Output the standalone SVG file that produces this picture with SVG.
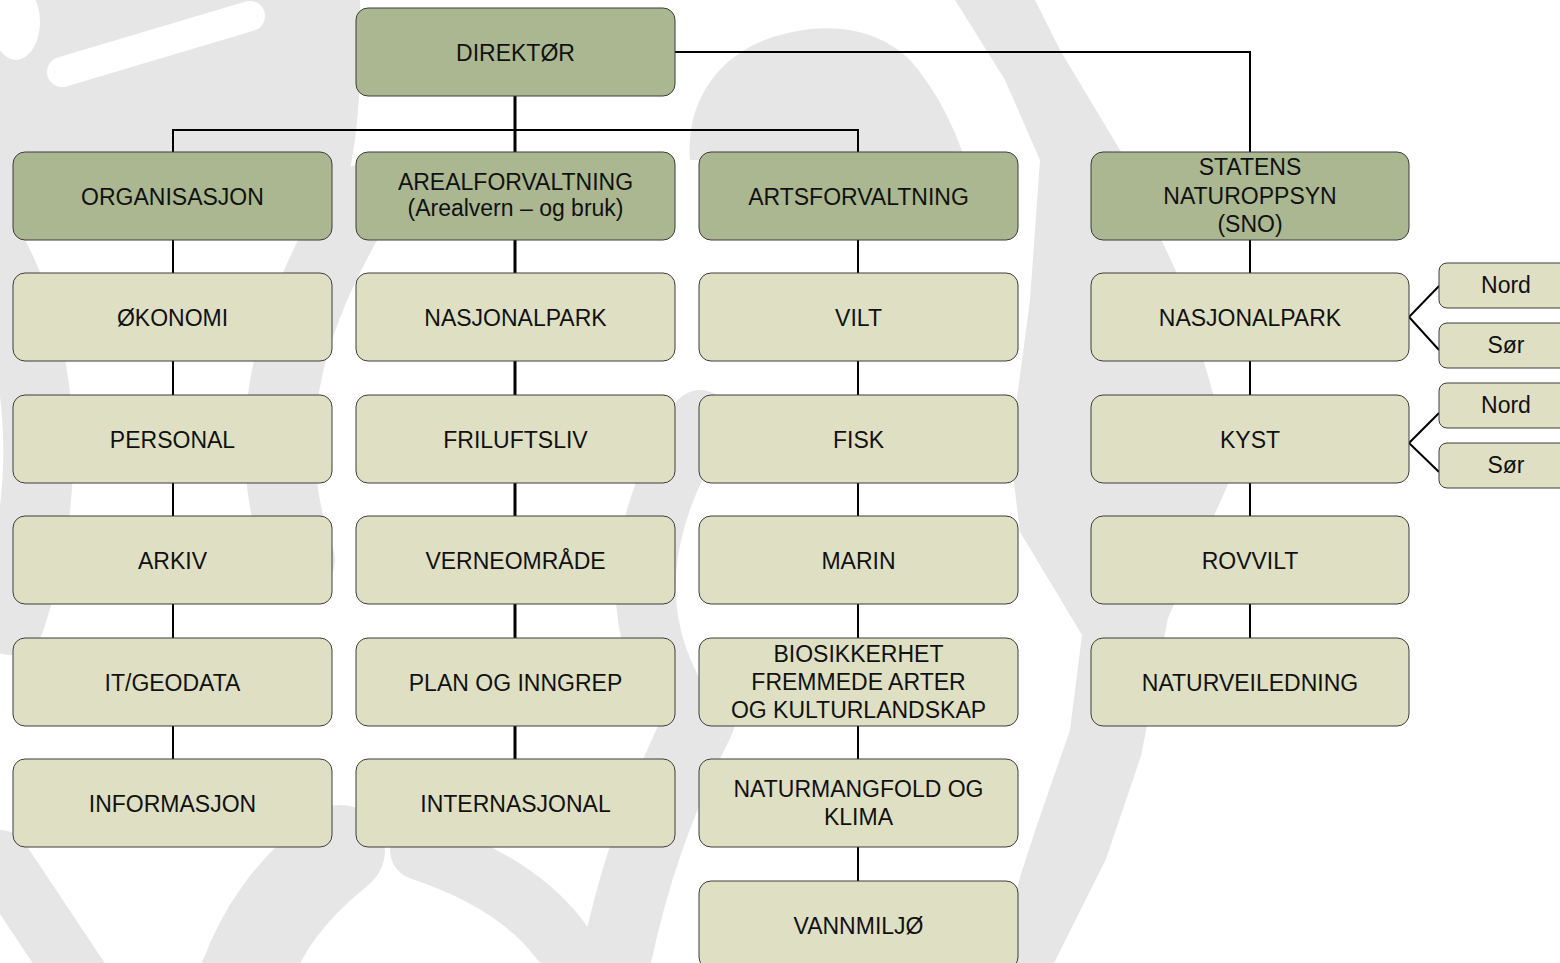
<svg xmlns="http://www.w3.org/2000/svg" width="1560" height="963" viewBox="0 0 1560 963">
<style>
.bg{fill:#ffffff}
.wm{fill:#e6e6e6}
.wms{fill:none;stroke:#e6e6e6;stroke-linecap:round}
.wmw{fill:#ffffff}
.dk{fill:#abb790;stroke:#3c3c3c;stroke-width:1}
.lt{fill:#dfe0c3;stroke:#3c3c3c;stroke-width:1}
.t{font-family:"Liberation Sans",Arial,sans-serif;font-size:23px;fill:#111111;text-anchor:middle}
.c{fill:none;stroke:#000000;stroke-width:2}
.c3{fill:none;stroke:#000000;stroke-width:3}
</style>
<rect class="bg" x="0" y="0" width="1560" height="963"/>
<g id="watermark">
  <path class="wm" d="M0,0 H360 C362,60 360,120 350,170 C330,230 300,200 250,175 C180,150 80,170 0,260 Z"/>
  <ellipse class="wmw" cx="16" cy="22" rx="24" ry="38"/>
  <path d="M62,72 L250,16" fill="none" stroke="#ffffff" stroke-linecap="round" stroke-width="30"/>
  <path class="wm" d="M955,0 L1035,0 L1060,50 L1120,150 L1180,280 L1215,400 L1230,480 L1168,618 L1141,756 L1106,859 L1054,963 L1000,963 L1020,877 L1037,825 L1070,730 L1082,635 L1020,532 L1010,450 L1030,300 L1040,160 L1005,80 Z"/>
  <path class="wm" d="M690,160 C685,100 720,55 770,38 C830,18 880,30 910,60 C940,95 955,130 965,160 Z"/>
  <path class="wms" d="M-20,230 C40,330 60,470 10,620" stroke-width="70"/>
  <path class="wms" d="M360,200 C300,300 250,420 300,560" stroke-width="70"/>
  <path class="wms" d="M700,420 C640,520 620,620 690,720" stroke-width="60"/>
  <path class="wms" d="M0,860 L80,980" stroke-width="60"/>
  <path class="wms" d="M340,850 C290,890 260,930 240,990" stroke-width="90"/>
  <path class="wms" d="M420,850 C480,870 530,900 560,940" stroke-width="60"/>
  <path class="wms" d="M700,720 C660,800 630,880 610,990" stroke-width="70"/>
</g>
<g id="connectors">
  <path class="c" d="M675,52 H1250 V152"/>
  <path class="c" d="M173,152 V130 H858 V152"/>
  <path class="c3" d="M515,96 V152"/>
  <path class="c" d="M173,240 V273 M173,361 V395 M173,483 V516 M173,604 V638 M173,726 V759"/>
  <path class="c3" d="M515,240 V273 M515,361 V395 M515,483 V516 M515,604 V638 M515,726 V759"/>
  <path class="c" d="M858,240 V273 M858,361 V395 M858,483 V516 M858,604 V638 M858,726 V759 M858,847 V881"/>
  <path class="c" d="M1250,240 V273 M1250,361 V395 M1250,483 V516 M1250,604 V638"/>
  <path class="c" d="M1439,286 L1409,317 L1439,350 M1439,413 L1409,443 L1439,472" stroke-width="1.5"/>
</g>
<g id="n-direktor"><rect class="dk" x="356" y="8" width="319" height="88" rx="12"/><text class="t" x="515.5" y="61">DIREKTØR</text></g>
<g id="n-organisasjon"><rect class="dk" x="13" y="152" width="319" height="88" rx="12"/><text class="t" x="172.5" y="205">ORGANISASJON</text></g>
<g id="n-arealforvaltning"><rect class="dk" x="356" y="152" width="319" height="88" rx="12"/><text class="t" x="515.5" y="190">AREALFORVALTNING</text><text class="t" x="515.5" y="216">(Arealvern – og bruk)</text></g>
<g id="n-artsforvaltning"><rect class="dk" x="699" y="152" width="319" height="88" rx="12"/><text class="t" x="858.5" y="205">ARTSFORVALTNING</text></g>
<g id="n-sno"><rect class="dk" x="1091" y="152" width="318" height="88" rx="12"/><text class="t" x="1250" y="175">STATENS</text><text class="t" x="1250" y="204">NATUROPPSYN</text><text class="t" x="1250" y="232">(SNO)</text></g>

<g id="n-okonomi"><rect class="lt" x="13" y="273" width="319" height="88" rx="12"/><text class="t" x="172.5" y="326">ØKONOMI</text></g>
<g id="n-personal"><rect class="lt" x="13" y="395" width="319" height="88" rx="12"/><text class="t" x="172.5" y="448">PERSONAL</text></g>
<g id="n-arkiv"><rect class="lt" x="13" y="516" width="319" height="88" rx="12"/><text class="t" x="172.5" y="569">ARKIV</text></g>
<g id="n-itgeodata"><rect class="lt" x="13" y="638" width="319" height="88" rx="12"/><text class="t" x="172.5" y="691">IT/GEODATA</text></g>
<g id="n-informasjon"><rect class="lt" x="13" y="759" width="319" height="88" rx="12"/><text class="t" x="172.5" y="812">INFORMASJON</text></g>

<g id="n-nasjonalpark1"><rect class="lt" x="356" y="273" width="319" height="88" rx="12"/><text class="t" x="515.5" y="326">NASJONALPARK</text></g>
<g id="n-friluftsliv"><rect class="lt" x="356" y="395" width="319" height="88" rx="12"/><text class="t" x="515.5" y="448">FRILUFTSLIV</text></g>
<g id="n-verneomrade"><rect class="lt" x="356" y="516" width="319" height="88" rx="12"/><text class="t" x="515.5" y="569">VERNEOMRÅDE</text></g>
<g id="n-plan"><rect class="lt" x="356" y="638" width="319" height="88" rx="12"/><text class="t" x="515.5" y="691">PLAN OG INNGREP</text></g>
<g id="n-internasjonal"><rect class="lt" x="356" y="759" width="319" height="88" rx="12"/><text class="t" x="515.5" y="812">INTERNASJONAL</text></g>

<g id="n-vilt"><rect class="lt" x="699" y="273" width="319" height="88" rx="12"/><text class="t" x="858.5" y="326">VILT</text></g>
<g id="n-fisk"><rect class="lt" x="699" y="395" width="319" height="88" rx="12"/><text class="t" x="858.5" y="448">FISK</text></g>
<g id="n-marin"><rect class="lt" x="699" y="516" width="319" height="88" rx="12"/><text class="t" x="858.5" y="569">MARIN</text></g>
<g id="n-biosikkerhet"><rect class="lt" x="699" y="638" width="319" height="88" rx="12"/><text class="t" x="858.5" y="662">BIOSIKKERHET</text><text class="t" x="858.5" y="690">FREMMEDE ARTER</text><text class="t" x="858.5" y="718">OG KULTURLANDSKAP</text></g>
<g id="n-naturmangfold"><rect class="lt" x="699" y="759" width="319" height="88" rx="12"/><text class="t" x="858.5" y="797">NATURMANGFOLD OG</text><text class="t" x="858.5" y="825">KLIMA</text></g>
<g id="n-vannmiljo"><rect class="lt" x="699" y="881" width="319" height="88" rx="12"/><text class="t" x="858.5" y="934">VANNMILJØ</text></g>

<g id="n-nasjonalpark2"><rect class="lt" x="1091" y="273" width="318" height="88" rx="12"/><text class="t" x="1250" y="326">NASJONALPARK</text></g>
<g id="n-kyst"><rect class="lt" x="1091" y="395" width="318" height="88" rx="12"/><text class="t" x="1250" y="448">KYST</text></g>
<g id="n-rovvilt"><rect class="lt" x="1091" y="516" width="318" height="88" rx="12"/><text class="t" x="1250" y="569">ROVVILT</text></g>
<g id="n-naturveiledning"><rect class="lt" x="1091" y="638" width="318" height="88" rx="12"/><text class="t" x="1250" y="691">NATURVEILEDNING</text></g>

<g id="n-np-nord"><rect class="lt" x="1439" y="263" width="140" height="45" rx="8"/><text class="t" x="1506" y="293">Nord</text></g>
<g id="n-np-sor"><rect class="lt" x="1439" y="323" width="140" height="45" rx="8"/><text class="t" x="1506" y="353">Sør</text></g>
<g id="n-kyst-nord"><rect class="lt" x="1439" y="383" width="140" height="45" rx="8"/><text class="t" x="1506" y="413">Nord</text></g>
<g id="n-kyst-sor"><rect class="lt" x="1439" y="443" width="140" height="45" rx="8"/><text class="t" x="1506" y="473">Sør</text></g>
</svg>
